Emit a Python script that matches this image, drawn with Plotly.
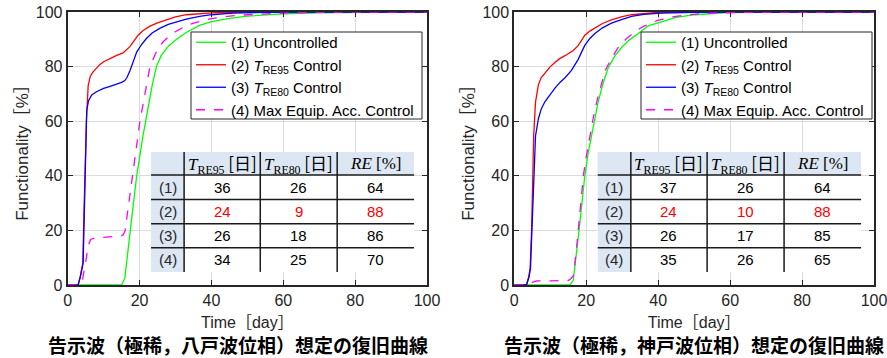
import plotly.graph_objects as go

# ---------------- data ----------------
tick_vals = [0, 20, 40, 60, 80, 100]

# Left panel: 告示波(極稀, 八戸波位相)
L1_x = [0, 15, 15.9, 16.5, 17.4, 18.3, 19.2, 20, 21, 21.7, 22.5, 23.5, 24.7, 26, 28, 30.3, 33, 36.5, 40, 45, 50, 60, 70, 80, 90, 100]
L1_y = [0, 0, 2.5, 10, 20, 30, 40, 47, 55, 60, 66, 73, 80, 84, 87.5, 90, 92.5, 95, 96.5, 97.7, 98.5, 99.3, 99.7, 99.9, 100, 100]

L2_x = [0, 2.9, 3.5, 4.2, 4.5, 4.8, 5.2, 5.7, 6.3, 7, 8, 9, 10, 11.8, 13.5, 15.4, 16.3, 17.3, 18.5, 19.6, 21, 22.9, 25, 27.5, 30, 33, 40, 50, 60, 100]
L2_y = [0, 0, 3, 8, 25, 42, 60, 73, 76.5, 78, 79.5, 80.8, 81.8, 83, 84, 85, 86, 87.3, 89.5, 91.5, 93.2, 94.8, 96, 97.2, 98.2, 99, 99.7, 100, 100, 100]

L3_x = [0, 2.9, 3.5, 4.3, 4.6, 5.0, 5.3, 5.8, 6.7, 8, 9, 10, 11.8, 13.5, 15, 15.9, 16.5, 17.3, 18.2, 19.2, 20.5, 21.9, 23.5, 25.6, 28, 30.3, 33, 36.7, 40, 46, 55, 70, 100]
L3_y = [0, 0, 3, 8, 25, 45, 64, 67.5, 69.6, 70.8, 71.5, 72, 72.8, 73.5, 74.2, 74.9, 76, 78.4, 82, 85.3, 88, 90.3, 92.3, 94, 95.5, 96.5, 97.4, 98.4, 99, 99.6, 99.9, 100, 100]

L4_x = [0, 3, 4, 4.6, 5.2, 5.7, 6.4, 7.5, 9, 11, 13, 15, 15.5, 16, 16.5, 17.2, 18.2, 19, 20.1, 21.5, 22.9, 24.5, 26.5, 28.5, 30.5, 33, 36, 40, 45, 50, 60, 70, 100]
L4_y = [0, 0, 1, 5, 10, 14.5, 16.7, 17.2, 17.4, 17.6, 17.8, 18, 18.5, 20, 25, 32, 40, 50, 60, 70, 80, 85, 89, 91.5, 93.2, 95, 96.3, 97.6, 98.5, 99, 99.6, 99.9, 100]

# Right panel: 告示波(極稀, 神戸波位相)
R1_x = [0, 15.5, 16.4, 17.2, 18, 18.8, 19.6, 20.5, 21.5, 22.4, 23.3, 24.7, 26.1, 28, 29.8, 32, 34.4, 37, 40.9, 45, 50.2, 59.4, 70, 100]
R1_y = [0, 0, 1.8, 10, 20, 30, 40, 48, 55, 61.5, 67, 74, 79.6, 84, 87, 89.8, 92, 94.8, 96.5, 98, 99, 99.8, 100, 100]

R2_x = [0, 3.4, 4.0, 4.4, 4.8, 5.0, 5.4, 5.9, 6.7, 7.5, 8.5, 10, 11.3, 12.7, 14.1, 15.3, 16.4, 17.8, 18.7, 19.6, 21, 22.4, 24.5, 27, 30, 32.6, 40, 50, 100]
R2_y = [0, 0, 3, 6.1, 20, 37, 55, 67, 73.4, 76, 77.75, 80, 81.5, 83, 84, 85, 85.9, 87.75, 89.7, 91.5, 93, 94, 95.8, 97.1, 98.3, 99, 99.9, 100, 100]

R3_x = [0, 3.4, 4.1, 4.5, 4.9, 5.3, 5.6, 5.9, 6.7, 7.5, 8.5, 10, 11.3, 12.7, 14.1, 15.9, 16.8, 17.8, 18.7, 19.6, 21, 22.4, 24.5, 27, 30, 32.6, 36, 40.9, 50, 60, 100]
R3_y = [0, 0, 3, 6.1, 20, 37, 47, 54.6, 60.9, 64.5, 67.1, 70, 72.1, 74.2, 75.9, 78.6, 80.5, 82.75, 85.3, 87.75, 90.3, 92.1, 94.2, 95.9, 97.3, 98.4, 99.1, 99.6, 99.9, 100, 100]

R4_x = [0, 3, 4, 5, 6.2, 8, 10, 12, 15, 15.7, 16.4, 17.2, 18.2, 19.2, 20, 21, 22, 22.9, 24, 25.2, 27, 28.9, 31, 33.5, 36, 39.8, 44, 48.3, 55, 65, 100]
R4_y = [0, 0, 0.3, 1, 1.5, 1.5, 1.5, 1.5, 1.6, 2.3, 3.3, 12, 26, 40, 47, 55, 61.5, 67, 73, 78.4, 83, 87, 90, 92.75, 94.8, 96.9, 98.2, 99, 99.6, 99.9, 100]

series_names = ["(1) Uncontrolled",
                "(2) <i>T</i><sub>RE95</sub> Control",
                "(3) <i>T</i><sub>RE80</sub> Control",
                "(4) Max Equip. Acc. Control"]

row_labels = ["(1)", "(2)", "(3)", "(4)"]
L_T95 = [36, 24, 26, 34]
L_T80 = [26, 9, 18, 25]
L_RE = [64, 88, 86, 70]
R_T95 = [37, 24, 26, 35]
R_T80 = [26, 10, 17, 26]
R_RE = [64, 88, 85, 65]

x_title = "Time［day］"
y_title = "Functionality［%］"
captions = ["告示波（極稀，八戸波位相）想定の復旧曲線", "告示波（極稀，神戸波位相）想定の復旧曲線"]

# ---------------- styles ----------------
colors = ["#00ff00", "#ff0000", "#0000ff", "#ff00ff"]
dashes = ["solid", "solid", "solid", "dash"]
SANS = "Liberation Sans, Arial, Noto Sans CJK JP, sans-serif"
CJK = "Noto Sans CJK JP, sans-serif"
SERIF = "Liberation Serif, Times New Roman, serif"
TXT = "#262626"
HDR_BG = "#dce7f3"

fig = go.Figure()

left = [(L1_x, L1_y), (L2_x, L2_y), (L3_x, L3_y), (L4_x, L4_y)]
right = [(R1_x, R1_y), (R2_x, R2_y), (R3_x, R3_y), (R4_x, R4_y)]

for i, (xs, ys) in enumerate(left):
    fig.add_trace(go.Scatter(x=xs, y=ys, mode="lines", name=series_names[i],
                             line=dict(color=colors[i], width=1.3, dash=dashes[i]),
                             xaxis="x", yaxis="y", legend="legend"))
for i, (xs, ys) in enumerate(right):
    fig.add_trace(go.Scatter(x=xs, y=ys, mode="lines", name=series_names[i],
                             line=dict(color=colors[i], width=1.3, dash=dashes[i]),
                             xaxis="x2", yaxis="y2", legend="legend2"))

W, H = 887, 358
ydom = [1 - 285 / H, 1 - 12 / H]
ax_common = dict(range=[0, 100], tickvals=tick_vals, ticks="inside", ticklen=5, tickwidth=1,
                 tickcolor=TXT, showline=True, linecolor=TXT, linewidth=2, mirror="ticks",
                 showgrid=True, gridcolor="#dcdcdc", gridwidth=1, zeroline=False,
                 tickfont=dict(family=SANS, size=16, color=TXT), fixedrange=True,
                 automargin=False, ticklabeloverflow="allow")

xt = dict(text=x_title, font=dict(family=SANS, size=16, color=TXT), standoff=9)
yt = dict(text=y_title, font=dict(family=SANS, size=17, color=TXT), standoff=3)

legend_common = dict(font=dict(family=SANS, size=15, color="#000000"),
                     bgcolor="rgba(0,0,0,0)", borderwidth=0,
                     xanchor="left", yanchor="top", tracegroupgap=0, itemwidth=30)

fig.update_layout(
    width=W, height=H, margin=dict(l=0, r=0, t=0, b=0, pad=0, autoexpand=False),
    paper_bgcolor="#ffffff", plot_bgcolor="#ffffff",
    font=dict(family=SANS, color=TXT),
    xaxis=dict(domain=[67.7 / W, 427 / W], anchor="y", title=xt, **ax_common),
    yaxis=dict(domain=ydom, anchor="x", title=yt, **ax_common),
    xaxis2=dict(domain=[514.3 / W, 874 / W], anchor="y2", title=xt, **ax_common),
    yaxis2=dict(domain=ydom, anchor="x2", title=yt, **ax_common),
    legend=dict(x=191 / W, y=1 - 26 / H, **legend_common),
    legend2=dict(x=641 / W, y=1 - 26 / H, **legend_common),
    showlegend=True,
)

# legend frames (white box with thin dark border)
for lx0, lx1 in [(191, 422), (641, 872)]:
    fig.add_shape(type="rect", xref="paper", yref="paper",
                  x0=lx0 / W, x1=lx1 / W, y0=1 - 119 / H, y1=1 - 32 / H,
                  fillcolor="#ffffff", line=dict(color=TXT, width=1), layer="above")

# ---------------- tables ----------------
col_edges = [23.2, 32.4, 53.6, 75.0, 96.4]
row_edges = [48.7, 40.3, 31.3, 22.4, 13.6, 4.8]
headers = [
    f"<span style='font-family:{SERIF}'><i>T</i><sub>RE95</sub></span> [日]",
    f"<span style='font-family:{SERIF}'><i>T</i><sub>RE80</sub></span> [日]",
    f"<span style='font-family:{SERIF}'><i>RE</i> [%]</span>",
]


def draw_table(xr, yr, t95, t80, re):
    shapes = []
    shapes.append(dict(type="rect", xref=xr, yref=yr, x0=col_edges[0], x1=col_edges[-1],
                       y0=row_edges[-1], y1=row_edges[0], fillcolor="#ffffff",
                       line=dict(width=0), layer="above"))
    shapes.append(dict(type="rect", xref=xr, yref=yr, x0=col_edges[0], x1=col_edges[-1],
                       y0=row_edges[1], y1=row_edges[0], fillcolor=HDR_BG,
                       line=dict(width=0), layer="above"))
    shapes.append(dict(type="rect", xref=xr, yref=yr, x0=col_edges[0], x1=col_edges[1],
                       y0=row_edges[-1], y1=row_edges[0], fillcolor=HDR_BG,
                       line=dict(width=0), layer="above"))
    for yv in row_edges[1:-1]:
        shapes.append(dict(type="line", xref=xr, yref=yr, x0=col_edges[0], x1=col_edges[-1],
                           y0=yv, y1=yv, line=dict(color="#1a1a1a", width=1.5), layer="above"))
    for xv in col_edges[1:-1]:
        shapes.append(dict(type="line", xref=xr, yref=yr, x0=xv, x1=xv,
                           y0=row_edges[-1], y1=row_edges[0],
                           line=dict(color="#1a1a1a", width=1.5), layer="above"))
    for s in shapes:
        fig.add_shape(**s)

    def cx(c):
        return (col_edges[c] + col_edges[c + 1]) / 2

    def cy(r):
        return (row_edges[r] + row_edges[r + 1]) / 2

    for c, h in enumerate(headers):
        fig.add_annotation(x=cx(c + 1), y=cy(0), xref=xr, yref=yr, text=h, showarrow=False,
                           xanchor="center", yanchor="middle",
                           font=dict(family=CJK, size=17, color="#000000"))
    for r in range(4):
        fig.add_annotation(x=cx(0), y=cy(r + 1), xref=xr, yref=yr, text=row_labels[r],
                           showarrow=False, xanchor="center", yanchor="middle",
                           font=dict(family=SANS, size=15, color=TXT))
        col = "#ff0000" if r == 1 else "#000000"
        for c, v in enumerate([t95[r], t80[r], re[r]]):
            fig.add_annotation(x=cx(c + 1), y=cy(r + 1), xref=xr, yref=yr, text=str(v),
                               showarrow=False, xanchor="center", yanchor="middle",
                               font=dict(family=SANS, size=15, color=col))


draw_table("x", "y", L_T95, L_T80, L_RE)
draw_table("x2", "y2", R_T95, R_T80, R_RE)

# ---------------- captions ----------------
for cxp, cap in zip([238, 694], captions):
    fig.add_annotation(x=cxp / W, y=1 - 344 / H, xref="paper", yref="paper",
                       xanchor="center", yanchor="middle",
                       text=f"<b>{cap}</b>", showarrow=False,
                       font=dict(family=CJK, size=19, color="#000000"))

fig.write_html("out.html", config={"displayModeBar": False},
               post_script="document.body.style.margin='0px';document.body.style.overflow='hidden';")
